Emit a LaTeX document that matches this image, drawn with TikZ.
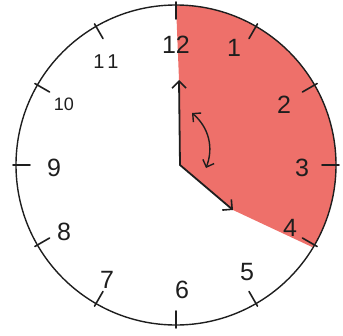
\documentclass[tikz,border=0pt]{standalone}
\usepackage{fontspec}
\setmainfont{Liberation Sans}
\usetikzlibrary{arrows.meta}
\definecolor{pencilred}{RGB}{238,112,106}
\definecolor{ink}{RGB}{30,30,30}
\begin{document}
\begin{tikzpicture}[x=1pt,y=-1pt,
  rim/.style={ink,line width=1.4pt},
  hourtick/.style={ink,line width=1.6pt,line cap=round},
  num/.style={ink,font=\fontsize{25}{25}\selectfont,inner sep=0pt},
  smallnum/.style={num,font=\fontsize{18}{18}\selectfont},
  hand/.style={ink,line width=1.8pt,line cap=round,line join=round,
    -{Straight Barb[length=7pt,width=14pt,line width=1.6pt]}},
  turn/.style={ink,line width=1.4pt,line cap=round,
    {Straight Barb[length=6pt,width=12pt,line width=1.4pt]}-{Straight Barb[length=6pt,width=12pt,line width=1.4pt]}},
  ]
\useasboundingbox (0,0) rectangle (343,335);
\coordinate (o) at (176,165);
\coordinate (p) at (180,165);
\coordinate (m) at (179,80);
\coordinate (h) at (233,210);
\coordinate (e4) at (312,247);
\coordinate (a1) at (192,113);
\coordinate (a2) at (206,168);
% red sector
\fill[pencilred] (p) -- (h) -- (e4) -- plot[domain=30:-90,samples=60] ({176+160*cos(\x)},{165+160*sin(\x)}) -- (m) -- cycle;
% rim
\draw[rim] (o) circle[radius=160pt];
% ticks
\foreach \k in {1,...,12}{
  \draw[hourtick] ({176+146*cos(30*\k-90)},{165+146*sin(30*\k-90)}) -- ({176+163*cos(30*\k-90)},{165+163*sin(30*\k-90)});
}
% numbers
\node[num] (n12) at (176,45) {12};
\node[num] (n1) at (234,48) {1};
\node[num] (n2) at (284,105) {2};
\node[num] (n3) at (302,168) {3};
\node[num] (n4) at (290,228) {4};
\node[num] (n5) at (247,272) {5};
\node[num] (n6) at (182,290) {6};
\node[num] (n7) at (107,280) {7};
\node[num] (n8) at (64,232) {8};
\node[num] (n9) at (54,168) {9};
\node[smallnum] (n10) at (64,104) {10};
\node[smallnum,font=\fontsize{20}{20}\selectfont] (n11) at (106,62) {1\kern3pt 1};
% hands
\draw[hand] (p) -- (m);
\draw[hand] (p) -- (h);
\draw[turn] (a1) to[bend left=35] (a2);
\end{tikzpicture}
\end{document}
